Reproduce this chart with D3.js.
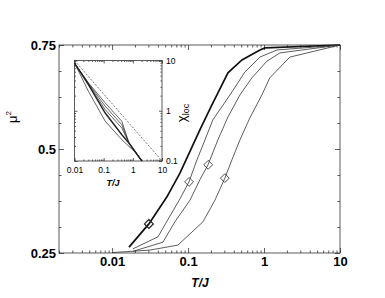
<!DOCTYPE html>
<html>
<head>
<meta charset="utf-8">
<script src="https://cdn.jsdelivr.net/npm/d3@7"></script>
<style>
  body { margin: 0; background: #fff; }
  svg { display: block; font-family: "Liberation Sans", Arial, sans-serif; }
  .frame { fill: none; stroke: #333; stroke-width: 0.8; }
  .tick line { stroke: #333; stroke-width: 0.8; }
  .curve { fill: none; stroke: #222; stroke-width: 0.8; }
</style>
</head>
<body>
<svg id="chart" width="385" height="298"></svg>
<script>
// main panel: mu^2 vs T/J, four curves (first one drawn heavy)
const curveT = [
  [0.0167, 0.0305, 0.0527, 0.0782, 0.116, 0.143, 0.206, 0.240, 0.335, 0.512, 0.883, 1.03, 10],
  [0.0188, 0.0402, 0.0578, 0.0782, 0.1028, 0.131, 0.167, 0.212, 0.356, 0.560, 0.883, 1.48, 10],
  [0.0188, 0.0467, 0.0671, 0.106, 0.143, 0.183, 0.247, 0.335, 0.482, 0.692, 1.09, 1.62, 10],
  [0.01, 0.0315, 0.0736, 0.157, 0.226, 0.305, 0.378, 0.482, 0.652, 0.938, 1.19, 2.19, 10]
];
const curveMu = [
  [0.264, 0.320, 0.385, 0.442, 0.510, 0.546, 0.606, 0.630, 0.683, 0.714, 0.738, 0.743, 0.75],
  [0.260, 0.289, 0.339, 0.380, 0.421, 0.474, 0.522, 0.570, 0.630, 0.685, 0.721, 0.738, 0.75],
  [0.254, 0.276, 0.325, 0.377, 0.426, 0.462, 0.522, 0.577, 0.630, 0.671, 0.711, 0.731, 0.75],
  [0.251, 0.257, 0.269, 0.325, 0.377, 0.430, 0.474, 0.522, 0.575, 0.630, 0.671, 0.721, 0.75]
];
const markT = [0.0305, 0.103, 0.184, 0.305];
const markMu = [0.320, 0.421, 0.462, 0.430];
const xTickLabels = [0.01, 0.1, 1, 10];
const yTickLabels = [0.25, 0.5, 0.75];

// inset: chi_loc vs T/J
const insetT = [
  [0.01, 0.03, 0.113, 0.42, 0.72, 2.04],
  [0.01, 0.03, 0.113, 0.42, 0.72, 2.04],
  [0.01, 0.03, 0.113, 0.42, 0.72, 2.04],
  [0.01, 0.03, 0.113, 0.42, 0.72, 2.04],
  [0.01, 0.03, 0.113, 0.42, 1.2, 2.04]
];
const insetChi = [
  [8.9, 3.3, 0.90, 0.333, 0.229, 0.1],
  [8.9, 3.6, 1.43, 0.616, 0.24, 0.1],
  [8.9, 3.5, 1.23, 0.527, 0.235, 0.1],
  [8.9, 3.4, 1.05, 0.454, 0.232, 0.1],
  [8.9, 2.44, 0.62, 0.265, 0.15, 0.1]
];
const dashT = [0.01, 10];
const dashChi = [10, 0.1];
const insetXTicks = [0.01, 0.1, 1, 10];
const insetYTicks = [0.1, 1, 10];

const svg = d3.select('#chart');

let x = d3.scaleLog().domain([0.002, 10]).range([59, 340]);
let y = d3.scaleLinear().domain([0.25, 0.75]).range([253, 45]);

// minor ticks
let xMinor = x.ticks().filter(t => !xTickLabels.includes(t));
let yMinor = d3.range(0.25, 0.7501, 0.0625).filter(t => !yTickLabels.includes(t));

function ticks(g, axis) { g.call(axis).call(s => s.select('.domain').remove()); }

svg.append('g').attr('transform', 'translate(0,253)')
  .call(g => ticks(g, d3.axisBottom(x).tickValues(xMinor).tickSize(-2.5).tickFormat('')));
svg.append('g').attr('transform', 'translate(0,253)')
  .call(g => ticks(g, d3.axisBottom(x).tickValues(xTickLabels).tickSize(-5).tickPadding(4).tickFormat(d3.format('~g'))))
  .selectAll('text').style('font-size', '13px').style('font-weight', 'bold').attr('fill', '#000');
svg.append('g').attr('transform', 'translate(0,45)')
  .call(g => ticks(g, d3.axisTop(x).tickValues(xMinor).tickSize(-2.5).tickFormat('')));
svg.append('g').attr('transform', 'translate(0,45)')
  .call(g => ticks(g, d3.axisTop(x).tickValues(xTickLabels).tickSize(-5).tickFormat('')));

svg.append('g').attr('transform', 'translate(59,0)')
  .call(g => ticks(g, d3.axisLeft(y).tickValues(yMinor).tickSize(-2.5).tickFormat('')));
svg.append('g').attr('transform', 'translate(59,0)')
  .call(g => ticks(g, d3.axisLeft(y).tickValues(yTickLabels).tickSize(-5).tickPadding(3).tickFormat(d3.format('~g'))))
  .selectAll('text').style('font-size', '13px').style('font-weight', 'bold').attr('fill', '#000');
svg.append('g').attr('transform', 'translate(340,0)')
  .call(g => ticks(g, d3.axisRight(y).tickValues(yMinor).tickSize(-2.5).tickFormat('')));
svg.append('g').attr('transform', 'translate(340,0)')
  .call(g => ticks(g, d3.axisRight(y).tickValues(yTickLabels).tickSize(-5).tickFormat('')));

svg.append('rect').attr('class', 'frame')
  .attr('x', 59).attr('y', 45).attr('width', 281).attr('height', 208);

let line = d3.line().x(d => x(d[0])).y(d => y(d[1]));
curveT.forEach((ts, i) => {
  svg.append('path').attr('class', 'curve')
    .attr('d', line(ts.map((t, j) => [t, curveMu[i][j]])))
    .style('stroke-width', i === 0 ? 1.7 : 0.8)
    .style('stroke', i === 0 ? '#111' : '#333');
});

let diamond = d3.symbol().type(d3.symbolDiamond2).size(50);
markT.forEach((t, i) => {
  svg.append('path').attr('d', diamond())
    .attr('transform', `translate(${x(t)},${y(markMu[i])})`)
    .attr('fill', 'none').attr('stroke', '#222').attr('stroke-width', i === 0 ? 1.2 : 0.8);
});

svg.append('text').attr('x', 200).attr('y', 287).attr('text-anchor', 'middle')
  .style('font-size', '12px').style('font-weight', 'bold').style('font-style', 'italic')
  .text('T/J');
svg.append('text').attr('transform', 'translate(17,117) rotate(-90)').attr('text-anchor', 'middle')
  .style('font-size', '13px')
  .text('μ').append('tspan').attr('dy', -6).style('font-size', '8px').text('2');

// inset
let ix = d3.scaleLog().domain([0.01, 10]).range([74.5, 162]);
let iy = d3.scaleLog().domain([0.1, 10]).range([161, 60.5]);
let ixMinor = ix.ticks().filter(t => !insetXTicks.includes(t));
let iyMinor = iy.ticks().filter(t => !insetYTicks.includes(t));

let inset = svg.append('g');
inset.append('rect').attr('x', 74.5).attr('y', 60.5).attr('width', 87.5).attr('height', 100.5)
  .attr('fill', '#fff');

inset.append('g').attr('transform', 'translate(0,161)')
  .call(g => ticks(g, d3.axisBottom(ix).tickValues(ixMinor).tickSize(-1.5).tickFormat('')));
inset.append('g').attr('transform', 'translate(0,161)')
  .call(g => ticks(g, d3.axisBottom(ix).tickValues(insetXTicks).tickSize(-3).tickPadding(6).tickFormat(d3.format('~g'))))
  .selectAll('text').style('font-size', '8.5px').attr('fill', '#000');
inset.append('g').attr('transform', 'translate(0,60.5)')
  .call(g => ticks(g, d3.axisTop(ix).tickValues(ixMinor).tickSize(-1.5).tickFormat('')));
inset.append('g').attr('transform', 'translate(0,60.5)')
  .call(g => ticks(g, d3.axisTop(ix).tickValues(insetXTicks).tickSize(-3).tickFormat('')));
inset.append('g').attr('transform', 'translate(74.5,0)')
  .call(g => ticks(g, d3.axisLeft(iy).tickValues(iyMinor).tickSize(-1.5).tickFormat('')));
inset.append('g').attr('transform', 'translate(74.5,0)')
  .call(g => ticks(g, d3.axisLeft(iy).tickValues(insetYTicks).tickSize(-3).tickFormat('')));
inset.append('g').attr('transform', 'translate(162,0)')
  .call(g => ticks(g, d3.axisRight(iy).tickValues(iyMinor).tickSize(-1.5).tickFormat('')));
inset.append('g').attr('transform', 'translate(162,0)')
  .call(g => ticks(g, d3.axisRight(iy).tickValues(insetYTicks).tickSize(-3).tickPadding(4).tickFormat(d3.format('~g'))))
  .selectAll('text').style('font-size', '8.5px').attr('fill', '#000');

inset.append('rect').attr('class', 'frame')
  .attr('x', 74.5).attr('y', 60.5).attr('width', 87.5).attr('height', 100.5);

let iline = d3.line().x(d => ix(d[0])).y(d => iy(d[1]));
inset.append('path').attr('class', 'curve')
  .attr('d', iline(dashT.map((t, j) => [t, dashChi[j]])))
  .style('stroke-dasharray', '2,1.5').style('stroke-width', 0.6);
insetT.forEach((ts, i) => {
  inset.append('path').attr('class', 'curve')
    .attr('d', iline(ts.map((t, j) => [t, insetChi[i][j]])))
    .style('stroke-width', i === 0 ? 1.4 : 0.7);
});

inset.append('text').attr('x', 113).attr('y', 186).attr('text-anchor', 'middle')
  .style('font-size', '9px').style('font-weight', 'bold').style('font-style', 'italic')
  .text('T/J');
inset.append('text').attr('transform', 'translate(186,113) rotate(-90)').attr('text-anchor', 'middle')
  .style('font-size', '13px')
  .text('χ').append('tspan').attr('dy', 3).style('font-size', '9px').text('loc');
</script>
</body>
</html>
